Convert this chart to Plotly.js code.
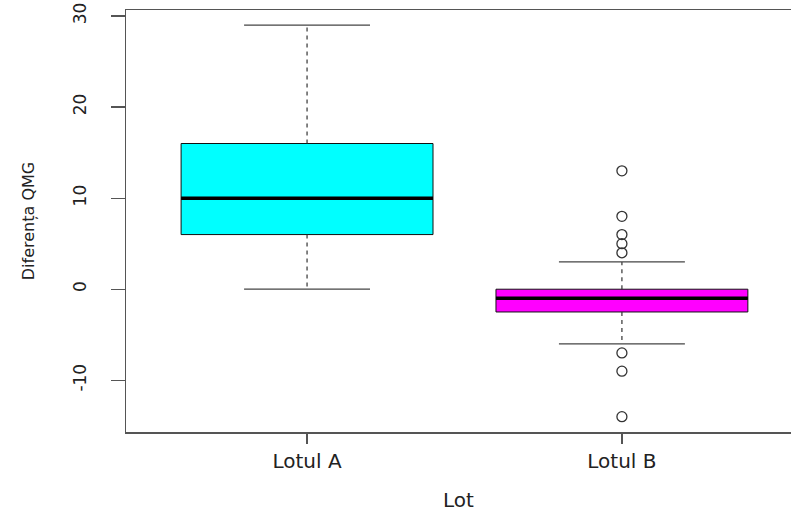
<!DOCTYPE html>
<html>
<head>
<meta charset="utf-8">
<script src="https://cdn.plot.ly/plotly-3.0.1.min.js"></script>
<style>html,body{margin:0;padding:0;background:#fff;}#chart{width:791px;height:512px;}</style>
</head>
<body>
<div id="chart"></div>
<script>
// Data
var categories = ['Lotul A', 'Lotul B'];
var positions = [1, 2];
var q1 = [6, -2.5];
var medians = [10, -1];
var q3 = [16, 0];
var lowerWhisker = [0, -6];
var upperWhisker = [29, 3];
var fillColors = ['#00FFFF', '#FF00FF'];
var outliersB = [13, 8, 6, 5, 4, -7, -9, -14];
var yTicks = [-10, 0, 10, 20, 30];
var yTickLabels = ['-10', '0', '10', '20', '30'];

var boxHalf = 0.4, capHalf = 0.2;
var traces = [];
for (var i = 0; i < categories.length; i++) {
  traces.push({
    type: 'box', x: [positions[i]], q1: [q1[i]], median: [medians[i]], q3: [q3[i]],
    lowerfence: [q1[i]], upperfence: [q3[i]], width: boxHalf * 2,
    fillcolor: fillColors[i], line: {color: '#111', width: 1}, whiskerwidth: 0,
    boxpoints: false, hoverinfo: 'skip', showlegend: false, name: categories[i]
  });
}
var wx = [], wy = [], cx = [], cy = [], mx = [], my = [];
for (var i = 0; i < categories.length; i++) {
  var p = positions[i];
  wx.push(p, p, null, p, p, null);
  wy.push(q3[i], upperWhisker[i], null, q1[i], lowerWhisker[i], null);
  cx.push(p - capHalf, p + capHalf, null, p - capHalf, p + capHalf, null);
  cy.push(upperWhisker[i], upperWhisker[i], null, lowerWhisker[i], lowerWhisker[i], null);
  mx.push(p - boxHalf, p + boxHalf, null);
  my.push(medians[i], medians[i], null);
}
traces.push({type: 'scatter', mode: 'lines', x: wx, y: wy, line: {color: '#333', width: 1.2, dash: '4px,4px'}, hoverinfo: 'skip', showlegend: false});
traces.push({type: 'scatter', mode: 'lines', x: cx, y: cy, line: {color: '#444', width: 1.2}, hoverinfo: 'skip', showlegend: false});
traces.push({type: 'scatter', mode: 'lines', x: mx, y: my, line: {color: '#000', width: 3.5}, hoverinfo: 'skip', showlegend: false});
traces.push({type: 'scatter', mode: 'markers', x: outliersB.map(function(){return positions[1];}), y: outliersB,
  marker: {symbol: 'circle-open', size: 10, color: '#333', line: {width: 1.3, color: '#333'}}, hoverinfo: 'skip', showlegend: false});

var layout = {
  width: 791, height: 512,
  margin: {l: 126, r: 0, t: 10, b: 80},
  paper_bgcolor: '#fff', plot_bgcolor: '#fff',
  showlegend: false,
  xaxis: {
    range: [0.425, 2.537], tickvals: positions, ticktext: categories,
    showgrid: false, zeroline: false, showline: true, mirror: true, linecolor: '#555', linewidth: 1.5,
    ticks: 'outside', ticklen: 10, tickcolor: '#555', tickwidth: 1.2,
    tickfont: {family: 'DejaVu Sans', size: 20, color: '#222'},
    ticklabelstandoff: 0,
    title: {text: 'Lot', font: {family: 'DejaVu Sans', size: 20, color: '#222'}, standoff: 30},
    automargin: false
  },
  yaxis: {
    range: [-15.68, 30.66], tickvals: yTicks, ticktext: yTickLabels,
    showgrid: false, zeroline: false, showline: true, mirror: false, linecolor: '#555', linewidth: 1.5,
    ticks: 'outside', ticklen: 14, tickcolor: '#555', tickwidth: 1.2, tickangle: -90,
    tickfont: {family: 'DejaVu Sans', size: 17, color: '#222'},
    ticklabelstandoff: 18,
    title: {text: 'Diferența QMG', font: {family: 'DejaVu Sans', size: 16, color: '#222'}, standoff: 31},
    automargin: false
  }
};
Plotly.newPlot('chart', traces, layout, {staticPlot: true, displayModeBar: false});
</script>
</body>
</html>
